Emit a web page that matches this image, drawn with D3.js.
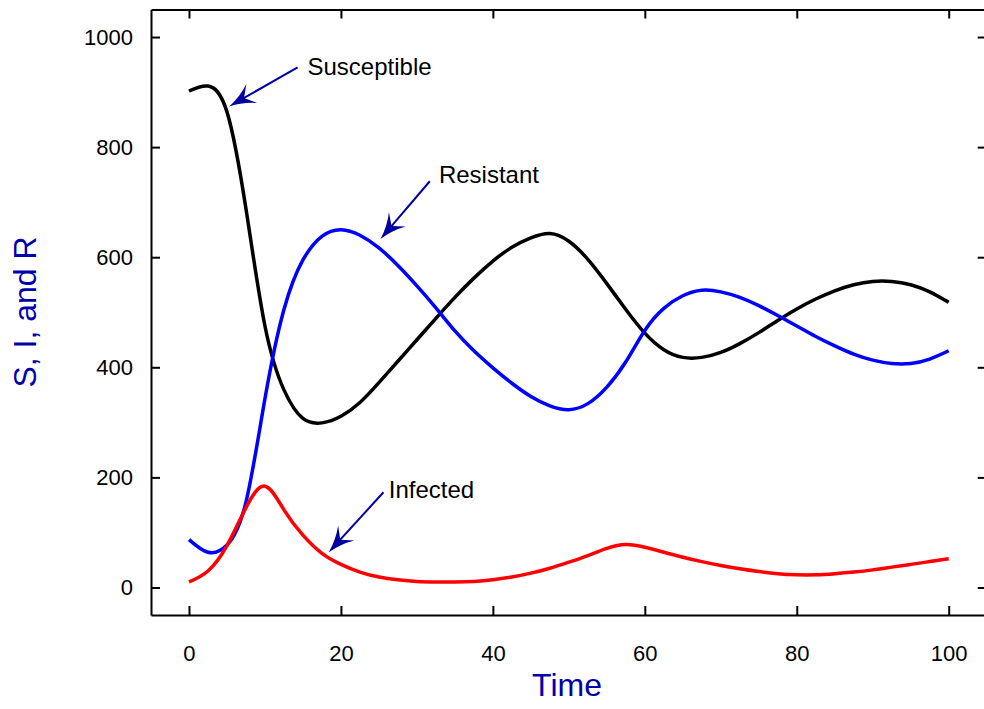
<!DOCTYPE html>
<html>
<head>
  <title>SIR model</title>
  <script src="https://d3js.org/d3.v7.min.js"></script>
  <style>
    body { margin: 0; background: #fff; }
    text { font-family: "Liberation Sans", Arial, sans-serif; }
  </style>
</head>
<body>
  <svg id="chart"></svg>

  <script>
    // time points (shared by all three series)
    var time = [0, 2.5, 5, 7.5, 10, 12.5, 15, 17.5, 20, 22.5, 25, 27.5, 30, 32.5, 35, 37.5, 40, 42.5, 45, 47.5, 50,
                52.5, 55, 57.5, 60, 62.5, 65, 67.5, 70, 72.5, 75, 77.5, 80, 82.5, 85, 87.5, 90, 92.5, 95, 97.5, 100];

    var susceptible = [902, 911, 864, 688, 475, 359, 307, 299, 311, 336, 372, 411, 450, 489, 527, 562, 593, 618, 635, 643, 629,
                       596, 552, 505, 462, 432, 418, 418, 427, 443, 463, 485, 506, 524, 539, 550, 556, 556, 550, 537, 518];
    var resistant   = [87, 64, 77, 155, 343, 505, 595, 638, 650, 640, 617, 585, 548, 508, 466, 430, 399, 371, 347, 330, 323,
                       334, 364, 410, 467, 507, 530, 540, 537, 527, 512, 494, 475, 456, 439, 424, 413, 407, 407, 415, 430];
    var infected    = [10, 30, 76, 145, 184, 141, 95, 62, 42, 28, 19, 14, 11, 10, 10, 11, 14, 19, 26, 35, 46,
                       58, 71, 78, 73, 64, 55, 47, 40, 34, 29, 25, 23, 23, 25, 28, 32, 37, 42, 47, 52];

    var xTicks = [0, 20, 40, 60, 80, 100];
    var yTicks = [0, 200, 400, 600, 800, 1000];

    // annotations: label, text anchor (t, v), arrow tail and arrow tip in data units
    var notes = [
      { label: "Susceptible", tx: 15.6, ty: 931, x1: 14.3, y1: 945, x2: 5.3, y2: 874 },
      { label: "Resistant",   tx: 32.9, ty: 735, x1: 31.7, y1: 738, x2: 25.2, y2: 633 },
      { label: "Infected",    tx: 26.3, ty: 162, x1: 25.6, y1: 173, x2: 18.4, y2: 64 }
    ];

    var width = 984, height = 709;
    var plotLeft = 151, plotRight = 986.7, plotTop = 9.5, plotBottom = 615;

    var svg = d3.select("#chart")
      .attr("width", width)
      .attr("height", height);

    var x = d3.scaleLinear().domain([-5, 105]).range([plotLeft, plotRight]);
    var y = d3.scaleLinear().domain([-50, 1050]).range([plotBottom, plotTop]);

    // axes: ticks point inward on all four sides
    function styleAxis(g) {
      g.select(".domain").attr("stroke", "#000").attr("stroke-width", 2);
      g.selectAll(".tick line").attr("stroke", "#000").attr("stroke-width", 2);
      g.selectAll(".tick text")
        .attr("fill", "#000")
        .style("font-size", "22px")
        .style("font-family", "'Liberation Sans', Arial, sans-serif");
    }

    svg.append("g")
      .attr("transform", "translate(0," + plotBottom + ")")
      .call(d3.axisBottom(x).tickValues(xTicks).tickSizeInner(-9).tickSizeOuter(0).tickPadding(30).tickFormat(d3.format("d")))
      .call(styleAxis);

    svg.append("g")
      .attr("transform", "translate(0," + plotTop + ")")
      .call(d3.axisTop(x).tickValues(xTicks).tickSizeInner(-9).tickSizeOuter(0).tickFormat(""))
      .call(styleAxis);

    svg.append("g")
      .attr("transform", "translate(" + plotLeft + ",0)")
      .call(d3.axisLeft(y).tickValues(yTicks).tickSizeInner(-9).tickSizeOuter(0).tickPadding(18).tickFormat(d3.format("d")))
      .call(styleAxis);

    svg.append("g")
      .attr("transform", "translate(" + plotRight + ",0)")
      .call(d3.axisRight(y).tickValues(yTicks).tickSizeInner(-9).tickSizeOuter(0).tickFormat(""))
      .call(styleAxis);

    // curves
    var series = [
      { values: susceptible, color: "#000000" },
      { values: resistant,   color: "#0000ff" },
      { values: infected,    color: "#ff0000" }
    ];

    var line = d3.line()
      .x(function(d, i) { return x(time[i]); })
      .y(function(d) { return y(d); })
      .curve(d3.curveNatural);

    svg.append("g")
      .selectAll("path")
      .data(series)
      .enter().append("path")
      .attr("d", function(d) { return line(d.values); })
      .attr("fill", "none")
      .attr("stroke", function(d) { return d.color; })
      .attr("stroke-width", 3.5)
      .attr("stroke-linejoin", "round")
      .attr("stroke-linecap", "butt");

    // annotation arrows
    var arrowColor = "#0000a0";

    function arrowHead(d) {
      var xt = x(d.x2), yt = y(d.y2);
      var dx = x(d.x1) - xt, dy = y(d.y1) - yt;
      var len = Math.sqrt(dx * dx + dy * dy);
      var ux = dx / len, uy = dy / len;   // along the shaft, toward the tail
      var px = -uy, py = ux;              // perpendicular
      var L = 26, W = 11, N = 17;
      var p1 = [xt + ux * L + px * W, yt + uy * L + py * W];
      var p2 = [xt + ux * N, yt + uy * N];
      var p3 = [xt + ux * L - px * W, yt + uy * L - py * W];
      return "M" + xt + "," + yt +
             "Q" + (xt + ux * 14 + px * 3) + "," + (yt + uy * 14 + py * 3) + " " + p1[0] + "," + p1[1] +
             "L" + p2[0] + "," + p2[1] +
             "L" + p3[0] + "," + p3[1] +
             "Q" + (xt + ux * 14 - px * 3) + "," + (yt + uy * 14 - py * 3) + " " + xt + "," + yt + "Z";
    }

    function shaftEnd(d, axis) {
      var dx = x(d.x1) - x(d.x2), dy = y(d.y1) - y(d.y2), l = Math.sqrt(dx * dx + dy * dy);
      return axis === "x" ? x(d.x2) + dx / l * 15 : y(d.y2) + dy / l * 15;
    }

    var note = svg.append("g").selectAll("g")
      .data(notes)
      .enter().append("g");

    note.append("line")
      .attr("x1", function(d) { return x(d.x1); })
      .attr("y1", function(d) { return y(d.y1); })
      .attr("x2", function(d) { return shaftEnd(d, "x"); })
      .attr("y2", function(d) { return shaftEnd(d, "y"); })
      .attr("stroke", arrowColor)
      .attr("stroke-width", 2);

    note.append("path")
      .attr("d", arrowHead)
      .attr("fill", arrowColor);

    note.append("text")
      .attr("x", function(d) { return x(d.tx); })
      .attr("y", function(d) { return y(d.ty); })
      .attr("fill", "#000")
      .style("font-size", "24px")
      .text(function(d) { return d.label; });

    // axis titles
    svg.append("text")
      .attr("x", 567)
      .attr("y", 696)
      .attr("text-anchor", "middle")
      .attr("fill", "#0000aa")
      .style("font-size", "32px")
      .text("Time");

    svg.append("text")
      .attr("transform", "translate(36,312) rotate(-90)")
      .attr("text-anchor", "middle")
      .attr("fill", "#0000aa")
      .style("font-size", "32px")
      .text("S, I, and R");
  </script>
</body>
</html>
